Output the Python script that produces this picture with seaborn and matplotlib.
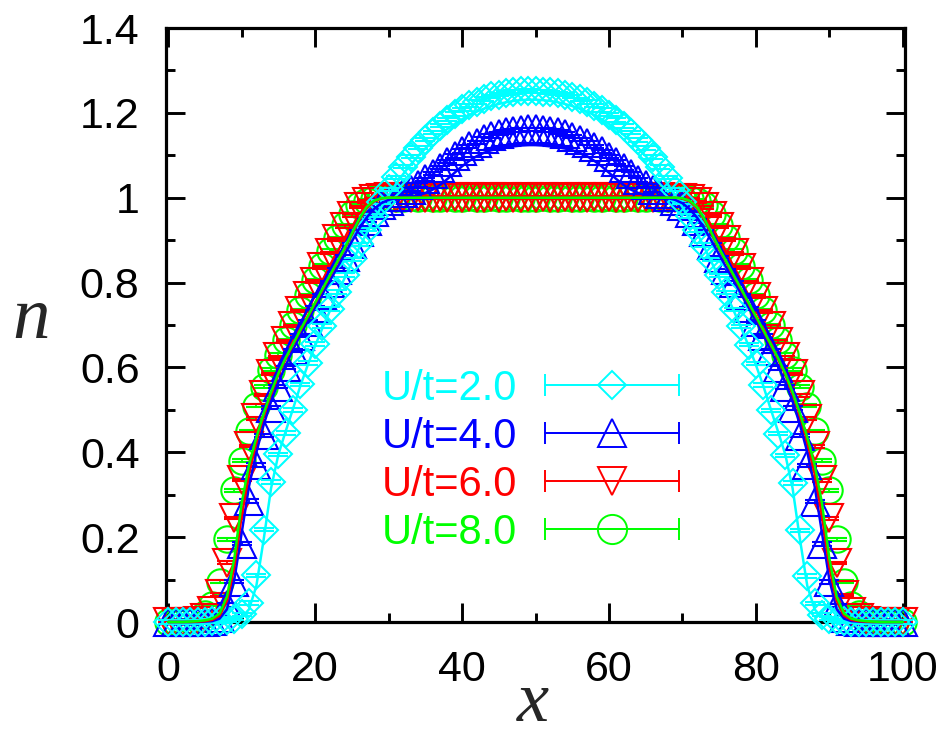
import numpy as np
import pandas as pd
import seaborn as sns
import matplotlib
matplotlib.use("Agg")
import matplotlib.pyplot as plt
from matplotlib.lines import Line2D
from matplotlib.collections import LineCollection
from matplotlib.container import ErrorbarContainer
from matplotlib.legend_handler import HandlerErrorbar
from matplotlib.ticker import MultipleLocator, FuncFormatter

# ---------------- data ----------------
sites = np.arange(0, 101)

labels = ["U/t=2.0", "U/t=4.0", "U/t=6.0", "U/t=8.0"]
colors = ["#00ffff", "#0000ff", "#ff0000", "#00ff00"]

# symbols (QMC points)
n_u2 = [0.000, 0.001, 0.000, 0.001, 0.000, 0.001, 0.002, 0.002, 0.004, 0.008,
        0.018, 0.045, 0.110, 0.218, 0.330, 0.395, 0.445, 0.500, 0.560, 0.610,
        0.655, 0.698, 0.738, 0.778, 0.818, 0.855, 0.890, 0.925, 0.958, 0.990,
        1.020, 1.048, 1.073, 1.097, 1.118, 1.137, 1.154, 1.170, 1.184, 1.197,
        1.208, 1.218, 1.226, 1.233, 1.239, 1.243, 1.247, 1.249, 1.251, 1.252,
        1.251, 1.250, 1.248, 1.246, 1.243, 1.238, 1.232, 1.226, 1.217, 1.207,
        1.196, 1.183, 1.169, 1.153, 1.136, 1.117, 1.096, 1.072, 1.047, 1.019,
        0.989, 0.957, 0.924, 0.889, 0.854, 0.817, 0.777, 0.737, 0.697, 0.654,
        0.609, 0.559, 0.499, 0.444, 0.393, 0.328, 0.216, 0.108, 0.044, 0.017,
        0.008, 0.004, 0.002, 0.001, 0.001, 0.000, 0.001, 0.000, 0.001, 0.000,
        0.000]
n_u4 = [0.000, 0.000, 0.001, 0.000, 0.001, 0.001, 0.003, 0.010, 0.040, 0.095,
        0.185, 0.285, 0.370, 0.440, 0.505, 0.555, 0.600, 0.640, 0.675, 0.708,
        0.740, 0.770, 0.800, 0.830, 0.860, 0.890, 0.920, 0.946, 0.966, 0.982,
        0.993, 1.002, 1.010, 1.019, 1.030, 1.043, 1.057, 1.071, 1.085, 1.098,
        1.110, 1.121, 1.130, 1.138, 1.145, 1.151, 1.155, 1.158, 1.160, 1.161,
        1.161, 1.160, 1.158, 1.155, 1.150, 1.144, 1.137, 1.129, 1.120, 1.109,
        1.097, 1.084, 1.070, 1.056, 1.042, 1.029, 1.018, 1.009, 1.001, 0.992,
        0.981, 0.965, 0.945, 0.919, 0.889, 0.859, 0.829, 0.799, 0.769, 0.739,
        0.707, 0.674, 0.639, 0.599, 0.554, 0.504, 0.439, 0.369, 0.284, 0.184,
        0.094, 0.039, 0.010, 0.003, 0.001, 0.001, 0.000, 0.001, 0.000, 0.000,
        0.000]
n_u6 = [0.000, 0.001, 0.000, 0.001, 0.002, 0.010, 0.025, 0.065, 0.140, 0.245,
        0.335, 0.415, 0.480, 0.535, 0.585, 0.625, 0.662, 0.698, 0.733, 0.768,
        0.802, 0.836, 0.870, 0.902, 0.932, 0.958, 0.978, 0.991, 0.997, 1.000,
        1.001, 1.000, 1.001, 1.000, 1.001, 1.000, 1.000, 1.001, 1.000, 1.001,
        1.000, 1.001, 1.000, 1.000, 1.001, 1.000, 1.001, 1.000, 1.000, 1.001,
        1.000, 1.001, 1.000, 1.000, 1.001, 1.000, 1.001, 1.000, 1.001, 1.000,
        1.001, 1.000, 1.000, 1.001, 1.000, 1.001, 1.000, 1.001, 1.000, 1.000,
        0.999, 0.997, 0.990, 0.977, 0.957, 0.931, 0.901, 0.869, 0.835, 0.801,
        0.767, 0.732, 0.697, 0.661, 0.624, 0.584, 0.534, 0.479, 0.414, 0.334,
        0.244, 0.139, 0.064, 0.024, 0.010, 0.002, 0.001, 0.000, 0.001, 0.000,
        0.000]
n_u8 = [0.000, 0.001, 0.002, 0.004, 0.008, 0.018, 0.040, 0.095, 0.195, 0.310,
        0.380, 0.450, 0.510, 0.555, 0.595, 0.630, 0.665, 0.700, 0.735, 0.770,
        0.805, 0.840, 0.875, 0.905, 0.935, 0.962, 0.982, 0.993, 0.998, 1.000,
        1.001, 1.000, 0.999, 1.001, 1.000, 1.001, 0.999, 1.000, 1.001, 1.000,
        0.999, 1.001, 1.000, 1.000, 1.001, 0.999, 1.000, 1.001, 1.000, 0.999,
        1.000, 1.001, 0.999, 1.000, 1.001, 1.000, 0.999, 1.001, 1.000, 1.000,
        1.001, 0.999, 1.000, 1.001, 1.000, 0.999, 1.001, 1.000, 1.000, 1.001,
        1.000, 0.998, 0.993, 0.982, 0.962, 0.935, 0.905, 0.875, 0.840, 0.805,
        0.770, 0.735, 0.700, 0.665, 0.630, 0.595, 0.555, 0.510, 0.450, 0.380,
        0.310, 0.195, 0.095, 0.040, 0.018, 0.008, 0.004, 0.002, 0.001, 0.000,
        0.000]

# error bars (one value per curve)
err_u2 = 0.004
err_u4 = 0.004
err_u6 = 0.003
err_u8 = 0.003

# solid curves
line_u2 = [0.000, 0.000, 0.000, 0.000, 0.000, 0.000, 0.001, 0.001, 0.002, 0.004,
           0.010, 0.030, 0.085, 0.195, 0.315, 0.395, 0.450, 0.503, 0.557, 0.606,
           0.651, 0.693, 0.733, 0.772, 0.810, 0.847, 0.882, 0.916, 0.948, 0.978,
           1.006, 1.032, 1.056, 1.078, 1.098, 1.116, 1.133, 1.148, 1.162, 1.174,
           1.185, 1.195, 1.203, 1.210, 1.216, 1.221, 1.225, 1.228, 1.230, 1.231,
           1.231, 1.230, 1.228, 1.225, 1.221, 1.216, 1.210, 1.203, 1.195, 1.185,
           1.174, 1.162, 1.148, 1.133, 1.116, 1.098, 1.078, 1.056, 1.032, 1.006,
           0.978, 0.948, 0.916, 0.882, 0.847, 0.810, 0.772, 0.733, 0.693, 0.651,
           0.606, 0.557, 0.503, 0.450, 0.395, 0.315, 0.195, 0.085, 0.030, 0.010,
           0.004, 0.002, 0.001, 0.001, 0.000, 0.000, 0.000, 0.000, 0.000, 0.000,
           0.000]
line_u4 = [0.000, 0.000, 0.000, 0.000, 0.000, 0.001, 0.002, 0.008, 0.030, 0.100,
           0.210, 0.320, 0.400, 0.465, 0.520, 0.565, 0.605, 0.642, 0.677, 0.710,
           0.742, 0.773, 0.804, 0.835, 0.866, 0.897, 0.927, 0.953, 0.973, 0.987,
           0.995, 0.999, 1.001, 1.003, 1.006, 1.011, 1.019, 1.030, 1.044, 1.059,
           1.074, 1.087, 1.098, 1.106, 1.112, 1.116, 1.119, 1.121, 1.123, 1.124,
           1.124, 1.123, 1.121, 1.119, 1.116, 1.112, 1.106, 1.098, 1.087, 1.074,
           1.059, 1.044, 1.030, 1.019, 1.011, 1.006, 1.003, 1.001, 0.999, 0.995,
           0.987, 0.973, 0.953, 0.927, 0.897, 0.866, 0.835, 0.804, 0.773, 0.742,
           0.710, 0.677, 0.642, 0.605, 0.565, 0.520, 0.465, 0.400, 0.320, 0.210,
           0.100, 0.030, 0.008, 0.002, 0.001, 0.000, 0.000, 0.000, 0.000, 0.000,
           0.000]
line_u6 = [0.000, 0.000, 0.000, 0.000, 0.001, 0.002, 0.005, 0.015, 0.050, 0.130,
           0.250, 0.350, 0.425, 0.487, 0.538, 0.583, 0.620, 0.654, 0.687, 0.719,
           0.751, 0.783, 0.815, 0.847, 0.879, 0.913, 0.947, 0.975, 0.991, 0.998,
           1.000, 1.000, 1.000, 1.000, 1.000, 1.000, 1.000, 1.000, 1.000, 1.000,
           1.000, 1.000, 1.000, 1.000, 1.000, 1.000, 1.000, 1.000, 1.000, 1.000,
           1.000, 1.000, 1.000, 1.000, 1.000, 1.000, 1.000, 1.000, 1.000, 1.000,
           1.000, 1.000, 1.000, 1.000, 1.000, 1.000, 1.000, 1.000, 1.000, 1.000,
           0.998, 0.991, 0.975, 0.947, 0.913, 0.879, 0.847, 0.815, 0.783, 0.751,
           0.719, 0.687, 0.654, 0.620, 0.583, 0.538, 0.487, 0.425, 0.350, 0.250,
           0.130, 0.050, 0.015, 0.005, 0.002, 0.001, 0.000, 0.000, 0.000, 0.000,
           0.000]
line_u8 = [0.000, 0.000, 0.000, 0.001, 0.002, 0.004, 0.008, 0.020, 0.060, 0.150,
           0.280, 0.370, 0.435, 0.492, 0.542, 0.586, 0.623, 0.656, 0.689, 0.721,
           0.753, 0.785, 0.817, 0.849, 0.881, 0.916, 0.950, 0.978, 0.993, 0.999,
           1.000, 1.000, 1.000, 1.000, 1.000, 1.000, 1.000, 1.000, 1.000, 1.000,
           1.000, 1.000, 1.000, 1.000, 1.000, 1.000, 1.000, 1.000, 1.000, 1.000,
           1.000, 1.000, 1.000, 1.000, 1.000, 1.000, 1.000, 1.000, 1.000, 1.000,
           1.000, 1.000, 1.000, 1.000, 1.000, 1.000, 1.000, 1.000, 1.000, 1.000,
           0.999, 0.993, 0.978, 0.950, 0.916, 0.881, 0.849, 0.817, 0.785, 0.753,
           0.721, 0.689, 0.656, 0.623, 0.586, 0.542, 0.492, 0.435, 0.370, 0.280,
           0.150, 0.060, 0.020, 0.008, 0.004, 0.002, 0.001, 0.000, 0.000, 0.000,
           0.000]

xticks = [0, 20, 40, 60, 80, 100]
yticks = [0, 0.2, 0.4, 0.6, 0.8, 1.0, 1.2, 1.4]

points = [n_u2, n_u4, n_u6, n_u8]
curves = [line_u2, line_u4, line_u6, line_u8]
errs = [err_u2, err_u4, err_u6, err_u8]
markers = ["D", "^", "v", "o"]
msizes = [14, 20, 20, 19]

# ---------------- style ----------------
sns.set_theme(style="ticks")
plt.rcParams["font.family"] = ["Liberation Sans", "DejaVu Sans"]
plt.rcParams["axes.linewidth"] = 2.3

fig = plt.figure(figsize=(9.42, 7.37), dpi=100)
ax = fig.add_axes([166 / 942, 1 - 622 / 737, (905 - 166) / 942, (622 - 28) / 737])

# symbols with (tiny) error bars; draw U=8 first so U=2 ends on top
for i in [3, 2, 1, 0]:
    c = colors[i]
    df = pd.DataFrame({"x": sites, "n": points[i]})
    sns.lineplot(data=df, x="x", y="n", ax=ax, color=c, marker=markers[i],
                 ms=msizes[i], mfc="none", mec=c, mew=1.5, linestyle="none",
                 errorbar=None, sort=False, clip_on=False, zorder=3)
    eb = ax.errorbar(df["x"], df["n"], yerr=errs[i], fmt="none", ecolor=c,
                     elinewidth=1.3, capsize=7, capthick=1.5, zorder=3)
    for a in eb.lines[1]:
        a.set_clip_on(False)
    for a in eb.lines[2]:
        a.set_clip_on(False)

# solid curves
for i in [0, 1, 2, 3]:
    dfl = pd.DataFrame({"x": sites, "n": curves[i]})
    sns.lineplot(data=dfl, x="x", y="n", ax=ax, color=colors[i], lw=1.8,
                 errorbar=None, sort=False, clip_on=False, zorder=4)

# axes
ax.set_xlim(-0.3, 100.3)
ax.set_ylim(0, 1.4)
ax.set_xticks(xticks)
ax.set_yticks(yticks)
ax.xaxis.set_minor_locator(MultipleLocator(10))
ax.yaxis.set_minor_locator(MultipleLocator(0.1))
fmt = FuncFormatter(lambda v, p: f"{v:g}")
ax.xaxis.set_major_formatter(fmt)
ax.yaxis.set_major_formatter(fmt)
ax.tick_params(which="both", direction="in", top=True, right=True,
               width=2.1, colors="black", labelsize=31)
ax.tick_params(which="major", length=14)
ax.tick_params(which="minor", length=6.7)
ax.tick_params(axis="y", pad=19)
ax.tick_params(axis="x", pad=20)
for s in ax.spines.values():
    s.set_color("black")
    s.set_linewidth(2.3)

serif = ["Liberation Serif", "DejaVu Serif"]
ax.set_xlabel("x", fontsize=52, fontstyle="italic", family=serif)
ax.set_ylabel("n", fontsize=54, fontstyle="italic", family=serif, rotation=0)
ax.xaxis.label.set_va("baseline")
ax.yaxis.label.set_va("baseline")
ax.yaxis.label.set_ha("center")
ax.xaxis.set_label_coords(0.497, -0.166)
ax.yaxis.set_label_coords(-0.183, 0.478)

# legend (gnuplot-style error-bar samples)
handles = []
for i in range(4):
    c = colors[i]
    pl = Line2D([], [], color=c, lw=1.3, marker=markers[i], ms=msizes[i] if i != 3 else 21,
                mfc="none", mec=c, mew=1.4)
    cap = Line2D([], [], color=c, linestyle="none", marker="|", ms=16, mew=1.4)
    bar = LineCollection([], colors=c, linewidths=1.3)
    handles.append(ErrorbarContainer((pl, (cap,), (bar,)), has_xerr=True,
                                     has_yerr=False, label=labels[i]))

ax.legend(handles=handles, labels=labels,
          handler_map={ErrorbarContainer: HandlerErrorbar(xerr_size=1.6)},
          loc="upper left", bbox_to_anchor=(382 / 942, 1 - 369 / 737),
          bbox_transform=fig.transFigure, frameon=False, markerfirst=False,
          handlelength=3.2, handletextpad=0.67, labelspacing=0.19,
          borderpad=0, borderaxespad=0, fontsize=30, labelcolor=colors,
          numpoints=1)

fig.savefig("out.png", dpi=100)
